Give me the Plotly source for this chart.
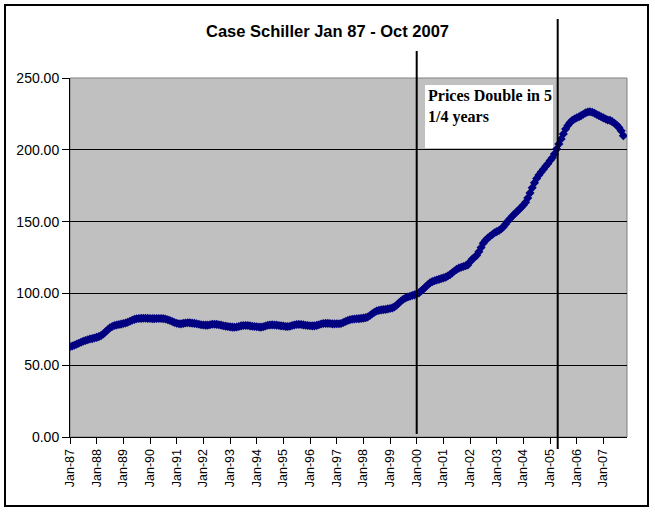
import pandas as pd
import plotly.graph_objects as go

# Monthly index values, Jan 1987 - Oct 2007
y1987 = [62.8, 63.4, 63.9, 64.6, 65.3, 66.0, 66.7, 67.2, 67.7, 68.2, 68.5, 68.9]
y1988 = [69.4, 69.9, 70.6, 71.8, 73.2, 74.7, 76.0, 77.0, 77.6, 78.0, 78.3, 78.6]
y1989 = [79.0, 79.4, 79.9, 80.6, 81.3, 81.9, 82.3, 82.5, 82.6, 82.7, 82.7, 82.6]
y1990 = [82.5, 82.4, 82.4, 82.5, 82.5, 82.5, 82.4, 82.2, 81.7, 81.1, 80.4, 79.7]
y1991 = [79.2, 78.9, 78.8, 79.1, 79.4, 79.6, 79.5, 79.3, 79.1, 78.9, 78.5, 78.2]
y1992 = [78.0, 77.9, 77.9, 78.2, 78.5, 78.5, 78.4, 78.2, 77.9, 77.5, 77.2, 76.9]
y1993 = [76.7, 76.5, 76.4, 76.6, 77.0, 77.4, 77.6, 77.6, 77.6, 77.4, 77.1, 76.9]
y1994 = [76.8, 76.6, 76.5, 76.8, 77.3, 77.8, 78.0, 78.1, 78.0, 77.9, 77.6, 77.4]
y1995 = [77.3, 77.0, 76.9, 77.1, 77.6, 78.0, 78.3, 78.4, 78.3, 78.1, 77.8, 77.6]
y1996 = [77.5, 77.4, 77.4, 77.7, 78.2, 78.7, 79.0, 79.1, 79.1, 79.0, 78.8, 78.8]
y1997 = [78.9, 78.9, 79.0, 79.7, 80.4, 81.1, 81.7, 82.0, 82.2, 82.3, 82.4, 82.6]
y1998 = [82.8, 83.1, 83.6, 84.6, 85.8, 86.9, 87.7, 88.2, 88.5, 88.7, 88.9, 89.2]
y1999 = [89.5, 89.9, 90.6, 91.8, 93.3, 94.7, 95.9, 96.8, 97.5, 98.0, 98.5, 99.0]
y2000 = [99.6, 100.4, 101.7, 103.0, 104.5, 106.0, 107.3, 108.2, 108.8, 109.3, 109.8, 110.3]
y2001 = [110.8, 111.3, 112.1, 113.1, 114.3, 115.6, 116.7, 117.6, 118.2, 118.7, 119.3, 119.8]
y2002 = [122.0, 124.0, 125.0, 126.5, 129.0, 132.0, 135.0, 137.0, 138.5, 139.8, 141.0, 142.2]
y2003 = [143.0, 143.8, 144.8, 146.3, 148.2, 150.2, 152.0, 153.7, 155.3, 156.8, 158.3, 159.8]
y2004 = [161.5, 163.5, 166.5, 170.0, 173.6, 177.0, 180.0, 182.5, 184.5, 186.5, 188.5, 190.3]
y2005 = [192.5, 194.5, 197.0, 200.5, 204.0, 207.5, 211.0, 214.5, 217.0, 219.0, 220.5, 221.5]
y2006 = [222.3, 223.0, 223.8, 224.8, 225.7, 226.3, 226.5, 226.2, 225.5, 224.6, 223.8, 223.0]
y2007 = [222.2, 221.4, 220.8, 220.5, 219.6, 218.5, 217.2, 215.6, 213.2, 209.8]

index_values = (y1987 + y1988 + y1989 + y1990 + y1991 + y1992 + y1993 + y1994 +
                y1995 + y1996 + y1997 + y1998 + y1999 + y2000 + y2001 + y2002 +
                y2003 + y2004 + y2005 + y2006 + y2007)
months = pd.date_range("1987-01-01", periods=len(index_values), freq="MS")

tick_years = list(range(1987, 2008))
tick_labels = ["Jan-%02d" % (yr % 100) for yr in tick_years]
tick_dates = [pd.Timestamp(yr, 1, 1) for yr in tick_years]

y_ticks = [0, 50, 100, 150, 200, 250]

title_text = "Case Schiller Jan 87 - Oct 2007"
note_text = "Prices Double in 5<br>1/4 years"
marker_dates = ["2000-01-01", "2005-04-15"]

NAVY = "#000080"

fig = go.Figure()
fig.add_trace(go.Scatter(
    x=months, y=index_values, mode="lines+markers",
    line=dict(color=NAVY, width=3),
    marker=dict(symbol="diamond", size=7, color=NAVY),
    showlegend=False, hoverinfo="skip",
))

W, H = 655, 512
L, R, T, B = 70, 28, 78, 75
pw, ph = W - L - R, H - T - B

def px_x(x):
    return (x - L) / pw

def px_y(y):
    return (H - B - y) / ph

shapes = [
    dict(type="rect", xref="paper", yref="paper", x0=0, x1=1, y0=0, y1=1,
         line=dict(color="#808080", width=1), layer="below"),
    dict(type="rect", xref="paper", yref="paper",
         x0=px_x(5), x1=px_x(648), y0=px_y(506), y1=px_y(5),
         line=dict(color="black", width=2), layer="above"),
    dict(type="line", xref="x", yref="paper", x0=marker_dates[0], x1=marker_dates[0],
         y0=px_y(434), y1=px_y(51), line=dict(color="black", width=2), layer="above"),
    dict(type="line", xref="x", yref="paper", x0=marker_dates[1], x1=marker_dates[1],
         y0=px_y(449), y1=px_y(19), line=dict(color="black", width=2), layer="above"),
    dict(type="rect", xref="paper", yref="paper",
         x0=px_x(425), x1=px_x(553), y0=px_y(148), y1=px_y(85),
         fillcolor="white", line=dict(width=0), layer="above"),
]

fig.update_layout(
    width=W, height=H,
    margin=dict(l=L, r=R, t=T, b=B, pad=0),
    paper_bgcolor="white",
    plot_bgcolor="#C0C0C0",
    title=dict(text="<b>%s</b>" % title_text, x=0.5, xanchor="center",
               xref="container", yref="container", y=1 - 31 / H, yanchor="middle",
               font=dict(family="Liberation Sans, Arial", size=16.5, color="black")),
    xaxis=dict(
        range=[pd.Timestamp("1987-01-01"), pd.Timestamp("2007-11-20")],
        tickvals=tick_dates, ticktext=tick_labels, tickangle=-90,
        ticks="outside", ticklen=6, tickcolor="black", tickwidth=1,
        showgrid=False, showline=True, linecolor="black", linewidth=1,
        zeroline=False,
        tickfont=dict(family="Liberation Sans, Arial", size=12.5, color="black"),
    ),
    yaxis=dict(
        range=[0, 250], tickvals=y_ticks, tickformat=".2f",
        ticks="outside", ticklen=7, tickcolor="black", tickwidth=1,
        showgrid=True, gridcolor="black", gridwidth=1,
        showline=True, linecolor="black", linewidth=1, zeroline=False,
        tickfont=dict(family="Liberation Sans, Arial", size=14, color="black"),
    ),
    shapes=shapes,
    annotations=[dict(
        xref="paper", yref="paper", x=px_x(426), y=px_y(85),
        xanchor="left", yanchor="top", align="left", showarrow=False,
        text="<b>%s</b>" % note_text,
        font=dict(family="Liberation Serif, Times New Roman", size=16, color="black"),
    )],
)

fig.write_html("out.html", config={"displayModeBar": False},
               post_script="document.body.style.margin='0px';")
